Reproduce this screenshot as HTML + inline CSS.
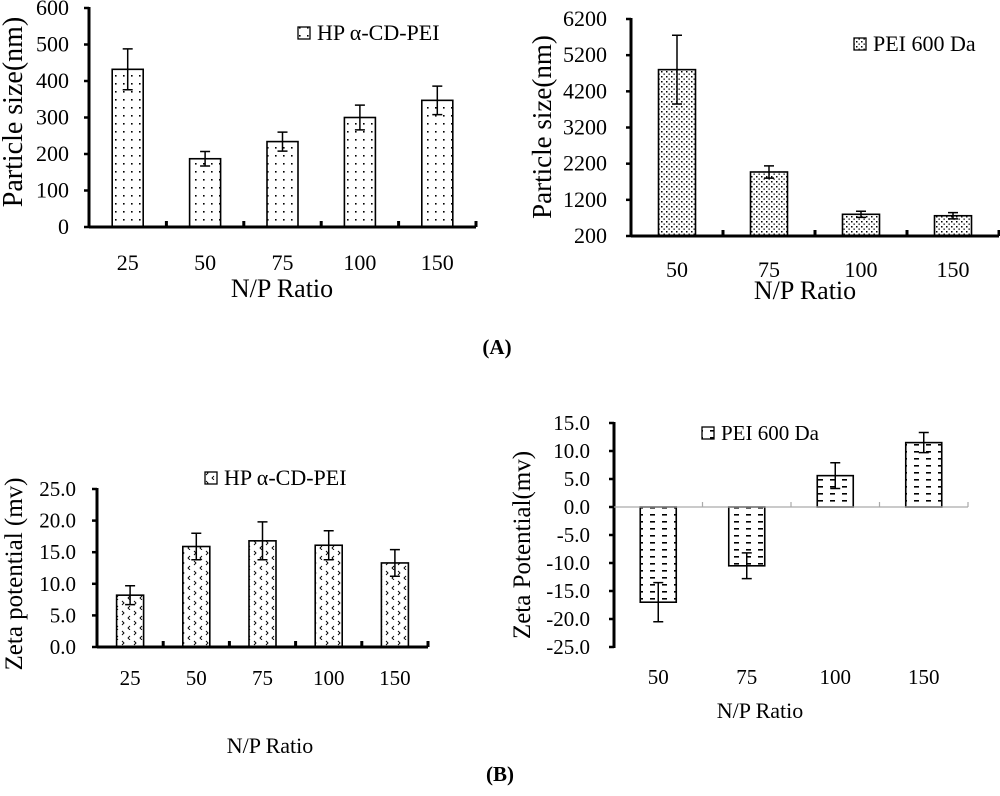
<!DOCTYPE html>
<html><head><meta charset="utf-8"><style>
body{margin:0;background:#fff;}
svg{display:block;font-family:"Liberation Serif",serif;}
</style></head><body>
<svg id="fig" width="1000" height="796" viewBox="0 0 1000 796">
<defs>
<pattern id="pDots" width="8" height="8" patternUnits="userSpaceOnUse"><rect width="8" height="8" fill="#fff"/><rect x="3" y="3" width="1.6" height="1.6" fill="#000"/></pattern>
<pattern id="pDots2" width="5" height="5" patternUnits="userSpaceOnUse"><rect width="5" height="5" fill="#fff"/><rect x="1" y="1" width="1.5" height="1.5" fill="#000"/><rect x="3.5" y="3.5" width="1.3" height="1.3" fill="#000"/></pattern>
<pattern id="pChev" width="12" height="10" patternUnits="userSpaceOnUse"><rect width="12" height="10" fill="#fff"/><path d="M2 1 L4 3 L2 5 M10 6 L8 8 L10 10" stroke="#000" stroke-width="0.9" fill="none"/></pattern>
<pattern id="pDash" width="12" height="7" patternUnits="userSpaceOnUse"><rect width="12" height="7" fill="#fff"/><rect x="2" y="3" width="5" height="1.6" fill="#000"/></pattern>
</defs>
<text x="497" y="354" text-anchor="middle" font-size="21" font-weight="bold">(A)</text>
<text x="500" y="781" text-anchor="middle" font-size="21" font-weight="bold">(B)</text>
</svg>
<script>
// Chart 1: HP a-CD-PEI particle size
const c1Categories = ["25","50","75","100","150"];
const c1Values = [432, 187, 234, 300, 347];
const c1Errors = [56, 20, 26, 34, 39];
const c1Ticks = [0,100,200,300,400,500,600];
// Chart 2: PEI 600 Da particle size
const c2Categories = ["50","75","100","150"];
const c2Values = [4800, 1970, 800, 760];
const c2Errors = [950, 170, 85, 85];
const c2Ticks = [200,1200,2200,3200,4200,5200,6200];
// Chart 3: HP a-CD-PEI zeta
const c3Categories = ["25","50","75","100","150"];
const c3Values = [8.2, 15.9, 16.8, 16.1, 13.3];
const c3Errors = [1.5, 2.1, 3.0, 2.3, 2.1];
const c3Ticks = [0,5,10,15,20,25];
// Chart 4: PEI 600 Da zeta
const c4Categories = ["50","75","100","150"];
const c4Values = [-17.0, -10.5, 5.6, 11.5];
const c4Errors = [3.5, 2.3, 2.3, 1.8];
const c4Ticks = [-25,-20,-15,-10,-5,0,5,10,15];

const NS="http://www.w3.org/2000/svg";
const svg=document.getElementById('fig');
function mk(tag,attrs,parent){const e=document.createElementNS(NS,tag);for(const k in attrs)e.setAttribute(k,attrs[k]);(parent||svg).appendChild(e);return e;}

function chart(o){
  const g=mk('g',{});
  
  
  const y=v=>o.y0-(v-o.vmin)/(o.vmax-o.vmin)*(o.y0-o.y1);
  const n=o.cats.length, cw=(o.xe-o.xa)/n;
  const x=i=>o.xa+cw*(i+0.5);
  const base=y(o.base);
  o.ticks.forEach(t=>{
    const l=mk('line',{x1:o.xa-5,x2:o.xa,y1:y(t),y2:y(t),stroke:'#000','stroke-width':2.5},g);
    
    
    const tx=mk('text',{x:o.xa-o.lblGap,y:y(t)+7,'text-anchor':'end','font-size':o.fs},g);
    
    
    tx.textContent=o.fmt?o.fmt(t):String(t);
  });
  o.vals.forEach((v,i)=>{
    const top=Math.min(y(v),base),h=Math.abs(y(v)-base);
    const r=mk('rect',{x:x(i)-o.bw/2,y:top,width:o.bw,height:h,fill:'url(#'+o.pat+')',stroke:'#000','stroke-width':1.6},g);
    
    
    const e=o.errs[i], ya=y(v+e), yb=y(v-e);
    const p=mk('path',{d:`M${x(i)} ${ya}V${yb}M${x(i)-5} ${ya}H${x(i)+5}M${x(i)-5} ${yb}H${x(i)+5}`,stroke:'#000','stroke-width':1.5,fill:'none'},g);
    
    
    const t=mk('text',{x:x(i),y:o.xlblY,'text-anchor':'middle','font-size':o.fs},g);
    
    
    t.textContent=o.cats[i];
  });
  const ya=mk('line',{x1:o.xa,x2:o.xa,y1:o.y1-1,y2:o.y0+1,stroke:'#000','stroke-width':3},g);
  
  
  const xl=mk('line',{x1:o.xa,x2:o.xe,y1:base,y2:base,stroke:o.gray?'#aaa':'#000','stroke-width':o.gray?1.2:3},g);
  
  
  for(let i=1;i<=n;i++){
    const xx=o.xa+cw*i;
    const tk=mk('line',{x1:xx,x2:xx,y1:o.gray?base-5:base,y2:o.gray?base:base-6,stroke:o.gray?'#aaa':'#000','stroke-width':o.gray?1.2:3},g);
    
    
  }
  const yt=mk('text',{x:0,y:0,'text-anchor':'middle','font-size':o.tfs,transform:`translate(${o.ytX},${o.ytY}) rotate(-90)`},g);
  
  
  yt.textContent=o.ytitle;
  const xt=mk('text',{x:o.xtX,y:o.xtY,'text-anchor':'middle','font-size':o.xfs},g);
  
  
  xt.textContent='N/P Ratio';
  const lb=mk('rect',{x:o.lgX,y:o.lgY,width:12,height:12,fill:'url(#'+o.pat+')',stroke:'#000','stroke-width':1.3},g);
  
  
  const lt=mk('text',{x:o.lgX+19,y:o.lgY+13,'font-size':o.lfs},g);
  
  
  lt.textContent=o.legend;
}
chart({name:'chart-size-hp-cd-pei',cats:c1Categories,vals:c1Values,errs:c1Errors,ticks:c1Ticks,vmin:0,vmax:600,base:0,
  xa:89,xe:476,y0:227,y1:8,bw:31,pat:'pDots',fs:22,tfs:28,xfs:26,lfs:22,lblGap:20,xlblY:270,
  ytitle:'Particle size(nm)',ytX:22,ytY:112,xtX:282,xtY:297,lgX:298,lgY:27,legend:'HP α-CD-PEI'});
chart({name:'chart-size-pei600',cats:c2Categories,vals:c2Values,errs:c2Errors,ticks:c2Ticks,vmin:200,vmax:6200,base:200,
  xa:631,xe:999,y0:236,y1:19,bw:37,pat:'pDots2',fs:22,tfs:27,xfs:26,lfs:22,lblGap:24,xlblY:277,
  ytitle:'Particle size(nm)',ytX:551,ytY:127,xtX:805,xtY:299,lgX:854,lgY:38,legend:'PEI 600 Da'});
chart({name:'chart-zeta-hp-cd-pei',cats:c3Categories,vals:c3Values,errs:c3Errors,ticks:c3Ticks,vmin:0,vmax:25,base:0,
  xa:97,xe:428,y0:647,y1:489,bw:27,pat:'pChev',fs:21,tfs:25,xfs:22,lfs:22,lblGap:21,xlblY:685,fmt:t=>t.toFixed(1),
  ytitle:'Zeta potential (mv)',ytX:22,ytY:574,xtX:270,xtY:753,lgX:205,lgY:472,legend:'HP α-CD-PEI'});
chart({name:'chart-zeta-pei600',cats:c4Categories,vals:c4Values,errs:c4Errors,ticks:c4Ticks,vmin:-25,vmax:15,base:0,gray:true,
  xa:614,xe:968,y0:647,y1:423,bw:36,pat:'pDash',fs:21,tfs:25,xfs:22,lfs:21,lblGap:24,xlblY:684,fmt:t=>t.toFixed(1),
  ytitle:'Zeta Potential(mv)',ytX:530,ytY:545,xtX:760,xtY:718,lgX:702,lgY:427,legend:'PEI 600 Da'});
</script>
</body></html>
